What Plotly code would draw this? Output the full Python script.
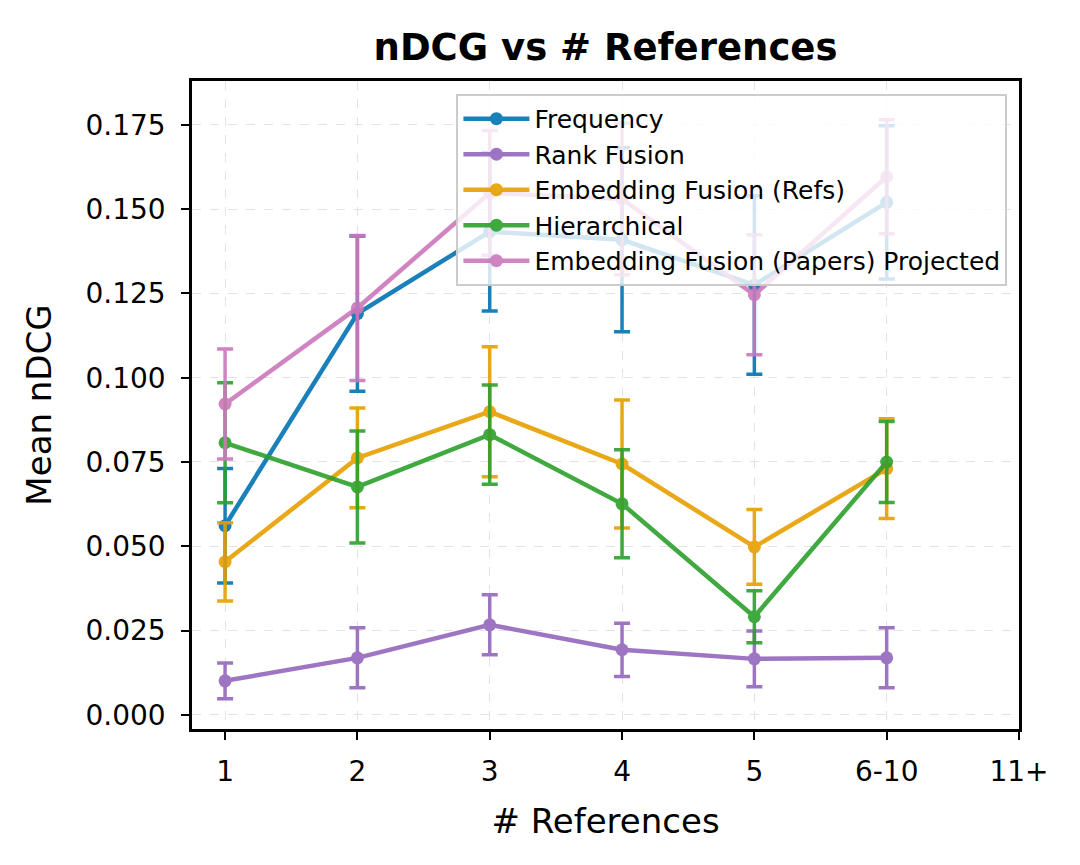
import plotly.graph_objects as go

categories = ["1", "2", "3", "4", "5", "6-10", "11+"]
x_used = ["1", "2", "3", "4", "5", "6-10"]

freq_mean = [0.0561, 0.1190, 0.1433, 0.1409, 0.1275, 0.1520]
freq_err = [0.0170, 0.0230, 0.0235, 0.0273, 0.0265, 0.0227]

rank_mean = [0.0101, 0.0169, 0.0267, 0.0193, 0.0166, 0.0169]
rank_err = [0.0053, 0.0089, 0.0089, 0.0079, 0.0083, 0.0089]

embref_mean = [0.0454, 0.0762, 0.0899, 0.0744, 0.0498, 0.0730]
embref_err = [0.0116, 0.0148, 0.0193, 0.0190, 0.0111, 0.0148]

hier_mean = [0.0807, 0.0676, 0.0831, 0.0626, 0.0291, 0.0750]
hier_err = [0.0178, 0.0166, 0.0147, 0.0160, 0.0077, 0.0120]

embpap_mean = [0.0922, 0.1207, 0.1548, 0.1530, 0.1246, 0.1596]
embpap_err = [0.0163, 0.0215, 0.0185, 0.0225, 0.0178, 0.0169]

series = [
    ("Frequency", freq_mean, freq_err, "#0173b2"),
    ("Rank Fusion", rank_mean, rank_err, "#9467bd"),
    ("Embedding Fusion (Refs)", embref_mean, embref_err, "#e69f00"),
    ("Hierarchical", hier_mean, hier_err, "#2ca02c"),
    ("Embedding Fusion (Papers) Projected", embpap_mean, embpap_err, "#cc78bc"),
]

fig = go.Figure()
for i, (name, m, e, c) in enumerate(series):
    fig.add_trace(go.Scatter(
        x=x_used, y=m, name=name, mode="lines+markers",
        line=dict(color=c, width=4.5),
        marker=dict(color=c, size=13),
        error_y=dict(type="data", array=e, visible=True, color=c, thickness=3.5, width=8),
        opacity=0.9,
        legendgroup=f"g{i}",
    ))

fig.update_layout(
    width=1080, height=865,
    margin=dict(l=192, r=61, t=81, b=136),
    paper_bgcolor="white", plot_bgcolor="white",
    font=dict(family="DejaVu Sans", color="black"),
    title=dict(text="<b>nDCG vs # References</b>", x=(192 + 1019) / 2 / 1080, xanchor="center",
               y=1 - 47 / 865, yanchor="middle", yref="container",
               font=dict(size=37, family="DejaVu Sans", color="black")),
    legend=dict(x=0.986, xanchor="right", y=0.98, yanchor="top",
                bgcolor="rgba(255,255,255,0.8)", bordercolor="#cccccc", borderwidth=2,
                font=dict(size=25, family="DejaVu Sans", color="black"),
                tracegroupgap=0, itemwidth=66),
    showlegend=True,
)

fig.update_xaxes(
    type="category", categoryorder="array", categoryarray=categories,
    range=[-0.25, 6],
    tickmode="array", tickvals=categories, ticktext=categories,
    showline=True, linecolor="black", linewidth=2.5, mirror=True,
    ticks="outside", ticklen=8, tickwidth=2, tickcolor="black",
    tickfont=dict(size=28, family="DejaVu Sans"), ticklabelstandoff=8,
    showgrid=True, gridcolor="#e3e3e3", griddash="dash", gridwidth=1.2,
    zeroline=False,
    title=dict(text="# References", font=dict(size=34, family="DejaVu Sans"), standoff=22),
)
fig.update_yaxes(
    range=[-0.0042, 0.188],
    tickvals=[0, 0.025, 0.05, 0.075, 0.1, 0.125, 0.15, 0.175],
    tickformat=".3f",
    showline=True, linecolor="black", linewidth=2.5, mirror=True,
    ticks="outside", ticklen=8, tickwidth=2, tickcolor="black",
    tickfont=dict(size=28, family="DejaVu Sans"), ticklabelstandoff=10,
    showgrid=True, gridcolor="#e3e3e3", griddash="dash", gridwidth=1.2,
    zeroline=False,
    title=dict(text="Mean nDCG", font=dict(size=34, family="DejaVu Sans"), standoff=24),
)

fig.write_html("out.html")
